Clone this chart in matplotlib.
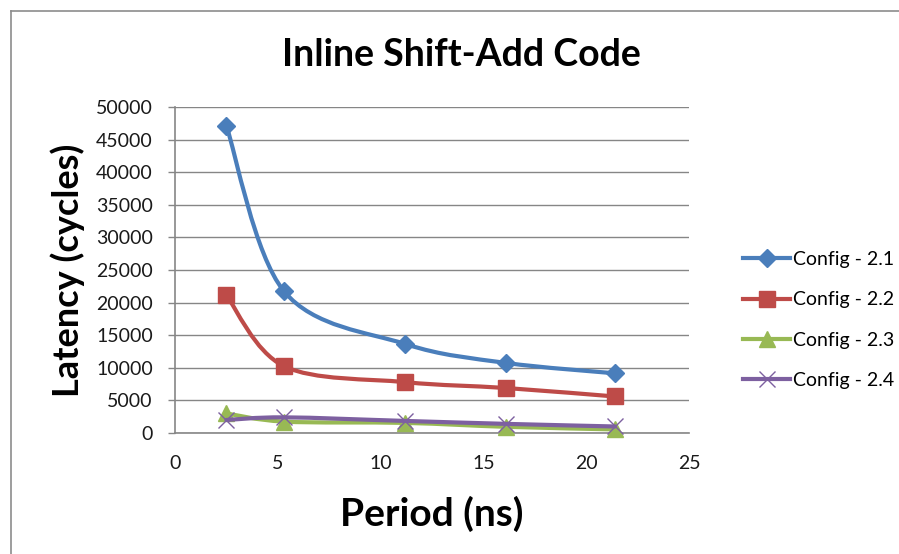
import numpy as np
import matplotlib
matplotlib.use("Agg")
import matplotlib.pyplot as plt
from matplotlib.path import Path
from matplotlib.patches import PathPatch
from matplotlib.lines import Line2D

# ---- data ----
period = [2.5, 5.3, 11.2, 16.1, 21.4]
config_21 = [47100, 21750, 13650, 10750, 9150]
config_22 = [21100, 10250, 7800, 6900, 5600]
config_23 = [3000, 1750, 1550, 950, 550]
config_24 = [2000, 2400, 1850, 1400, 1000]
series_names = ["Config - 2.1", "Config - 2.2", "Config - 2.3", "Config - 2.4"]
title = "Inline Shift-Add Code"
xlabel = "Period (ns)"
ylabel = "Latency (cycles)"
xticks = [0, 5, 10, 15, 20, 25]
yticks = [0, 5000, 10000, 15000, 20000, 25000, 30000, 35000, 40000, 45000, 50000]

colors = ["#4A7EBB", "#BE4B48", "#98B954", "#7D60A0"]
markers = ["D", "s", "^", "x"]
msizes = [9, 11, 11, 11]
FONT = "Lato"

W, H = 899, 554
fig = plt.figure(figsize=(W / 100, H / 100), dpi=100)
fig.patch.set_facecolor("white")

# outer chart border (left and top edges visible)
fig.add_artist(Line2D([10.5 / W, 10.5 / W], [0, 1 - 11 / H], transform=fig.transFigure,
                      color="#8C8C8C", linewidth=1.2))
fig.add_artist(Line2D([10.5 / W, 1], [1 - 11 / H, 1 - 11 / H], transform=fig.transFigure,
                      color="#8C8C8C", linewidth=1.2))

L, R, T, B = 175, 689, 107, 433
ax = fig.add_axes([L / W, 1 - B / H, (R - L) / W, (B - T) / H])
ax.set_xlim(0, 25)
ax.set_ylim(0, 50000)
ax.set_xticks(xticks)
ax.set_yticks(yticks)
ax.set_xticklabels([str(v) for v in xticks], fontfamily=FONT, fontsize=14, color="#1a1a1a")
ax.set_yticklabels([str(v) for v in yticks], fontfamily=FONT, fontsize=14, color="#1a1a1a")
ax.tick_params(axis="x", length=0, pad=16)
ax.tick_params(axis="y", length=5, width=1, color="#868686", pad=11)
ax.grid(axis="y", color="#868686", linewidth=1)
ax.set_axisbelow(True)
for s in ["top", "right"]:
    ax.spines[s].set_visible(False)
for s in ["left", "bottom"]:
    ax.spines[s].set_color("#868686")
    ax.spines[s].set_linewidth(1.2)


def smooth_path(xs, ys):
    pts = np.column_stack([xs, ys]).astype(float)
    n = len(pts)
    verts = [pts[0]]
    codes = [Path.MOVETO]
    for i in range(n - 1):
        p0 = pts[i - 1] if i > 0 else pts[i]
        p1 = pts[i]
        p2 = pts[i + 1]
        p3 = pts[i + 2] if i + 2 < n else pts[i + 1]
        c1 = p1 + (p2 - p0) / 6.0
        c2 = p2 - (p3 - p1) / 6.0
        verts += [c1, c2, p2]
        codes += [Path.CURVE4] * 3
    return Path(verts, codes)


all_series = [config_21, config_22, config_23, config_24]
handles = []
for k, (vals, c, m, ms) in enumerate(zip(all_series, colors, markers, msizes)):
    patch = PathPatch(smooth_path(period, vals), facecolor="none", edgecolor=c,
                      linewidth=3.0, capstyle="round", joinstyle="round", zorder=3 + k)
    ax.add_patch(patch)
    ax.plot(period, vals, linestyle="none", marker=m, markersize=ms, color=c,
            markeredgecolor=c, markeredgewidth=1.0, zorder=3 + k, clip_on=False)
    handles.append(Line2D([0], [0], color=c, linewidth=3.0, marker=m, markersize=ms,
                          markeredgecolor=c, markeredgewidth=1.0))

ax.set_xlabel(xlabel, fontfamily=FONT, fontweight="bold", fontsize=28, labelpad=17)
ax.set_ylabel(ylabel, fontfamily=FONT, fontweight="bold", fontsize=26, labelpad=8)

fig.text(461 / W, 1 - 55 / H, title, ha="center", va="center", fontfamily=FONT,
         fontweight="bold", fontsize=27)

fig.legend(handles, series_names, loc="center left", bbox_to_anchor=(733 / W, 1 - 320 / H),
           frameon=False, prop={"family": FONT, "size": 14}, handlelength=2.45,
           handletextpad=0.15, labelspacing=1.2, borderpad=0)

fig.savefig("out.png", dpi=100, facecolor="white")
